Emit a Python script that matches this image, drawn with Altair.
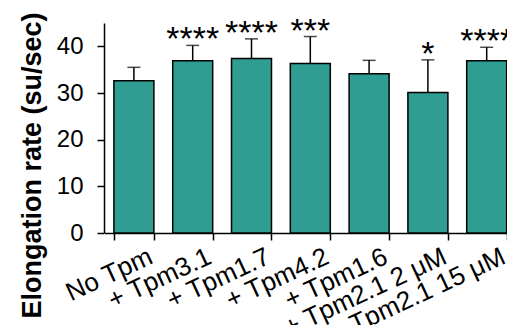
import altair as alt
import pandas as pd

categories = ["No Tpm", "+ Tpm3.1", "+ Tpm1.7", "+ Tpm4.2", "+ Tpm1.6",
              "+ Tpm2.1 2 μM", "+ Tpm2.1 15 μM"]
means = [32.6, 36.9, 37.4, 36.3, 34.1, 30.1, 36.9]
sds = [2.9, 3.3, 4.2, 5.8, 2.9, 7.0, 2.9]
stars = ["", "****", "****", "***", "", "*", "****"]
y_ticks = [0, 10, 20, 30, 40]

df = pd.DataFrame({"cat": categories, "mean": means, "sd": sds, "sig": stars})

FONT = "Liberation Sans"
TEAL = "#2f9d91"

x = alt.X(
    "cat:N",
    sort=categories,
    scale=alt.Scale(paddingInner=0.32, paddingOuter=0.16, range=[0.5, 412.1]),
    axis=alt.Axis(
        title=None, tickBand="extent", tickSize=7, tickWidth=1.5, tickColor="black",
        domainColor="black", domainWidth=1.5, labelAngle=335, labelAlign="right",
        labelBaseline="top", labelFont=FONT, labelFontSize=26, labelColor="black",
        labelPadding=3, labelOffset=11, labelOverlap=False, labelLimit=400,
    ),
)

y_scale = alt.Scale(domain=[0, 45], nice=False)

base = alt.Chart(df).transform_calculate(upper="datum.mean + datum.sd")

bars = base.mark_bar(fill=TEAL, stroke="black", strokeWidth=1.5).encode(
    x=x,
    y=alt.Y(
        "mean:Q",
        scale=y_scale,
        axis=alt.Axis(
            values=y_ticks, grid=False, tickSize=7, tickWidth=1.5, tickColor="black",
            domainColor="black", domainWidth=1.5, labelFont=FONT, labelFontSize=24,
            labelColor="black", labelPadding=14,
            title="Elongation rate (su/sec)", titleFont=FONT, titleFontSize=27,
            titleFontWeight="bold", titleColor="black", titleAngle=270,
            titleAlign="center", titleBaseline="middle", titleX=-72, titleY=142,
        ),
    ),
)

err = base.mark_rule(color="black", strokeWidth=1.5).encode(
    x=x, y=alt.Y("mean:Q", scale=y_scale), y2="upper:Q"
)

caps = base.mark_tick(color="black", size=13, thickness=1.5, orient="horizontal").encode(
    x=x, y=alt.Y("upper:Q", scale=y_scale)
)

sig = base.mark_text(font=FONT, fontSize=34, baseline="alphabetic", dy=5, color="black").encode(
    x=x, y=alt.Y("upper:Q", scale=y_scale), text="sig:N"
)

chart = (
    alt.layer(bars, err, caps, sig)
    .properties(
        width=403, height=210,
        autosize=alt.AutoSizeParams(type="none"),
        padding={"left": 96, "top": 15, "right": 0, "bottom": 92},
    )
    .configure_view(stroke=None)
)

chart.save("out.html", embed_options={"renderer": "svg", "actions": False})
